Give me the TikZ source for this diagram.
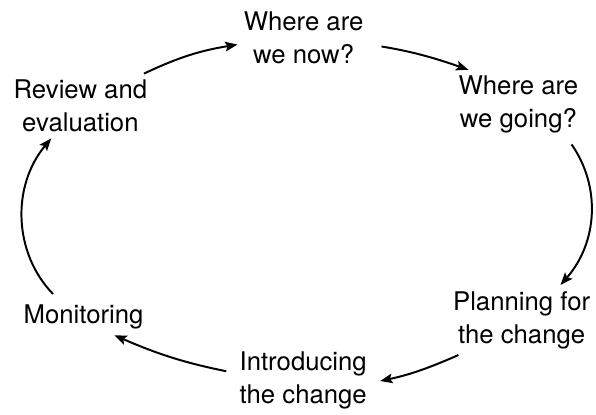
\documentclass[tikz,border=0pt]{standalone}
\usepackage{fontspec}
\setmainfont{TeX Gyre Heros}
\usetikzlibrary{arrows.meta}

\begin{document}
\begin{tikzpicture}[
    stage/.style={align=center, inner sep=0.15cm, font=\fontsize{18.3}{23.5}\selectfont},
    cycarrow/.style={line width=1.4pt, -{Stealth[length=0.31cm, width=0.24cm, inset=0.06cm]}}
  ]

    \useasboundingbox (0, 0) rectangle (14.9, 10.35);

    % The six stages of the cycle
    \node[stage] (now) at (7.59, 9.41) {Where are\\we now?};
    \node[stage] (going) at (12.96, 7.73) {Where are\\we going?};
    \node[stage] (planning) at (13.04, 2.35) {Planning for\\the change};
    \node[stage] (intro) at (7.58, 0.85) {Introducing\\the change};
    \node[stage] (monitor) at (2.09, 2.43) {Monitoring};
    \node[stage] (review) at (2.01, 7.70) {Review and\\evaluation};

    % Arrows going round clockwise
    \draw[cycarrow] (review.27) to[bend left=8] (now.186);
    \draw[cycarrow, shorten <=0.3cm] (now.-6) to[bend left=5] (going.145);
    \draw[cycarrow, shorten <=0.14cm] (going.-35) to[bend left=38] (planning.42);
    \draw[cycarrow, shorten >=0.18cm] (planning.209) to[bend left=6] (intro.-2);
    \draw[cycarrow, shorten <=0.18cm] (intro.174) to[bend left=6] (monitor.-31);
    \draw[cycarrow, shorten <=0.15cm] (monitor.145) to[bend left=42] (review.228);

\end{tikzpicture}
\end{document}
